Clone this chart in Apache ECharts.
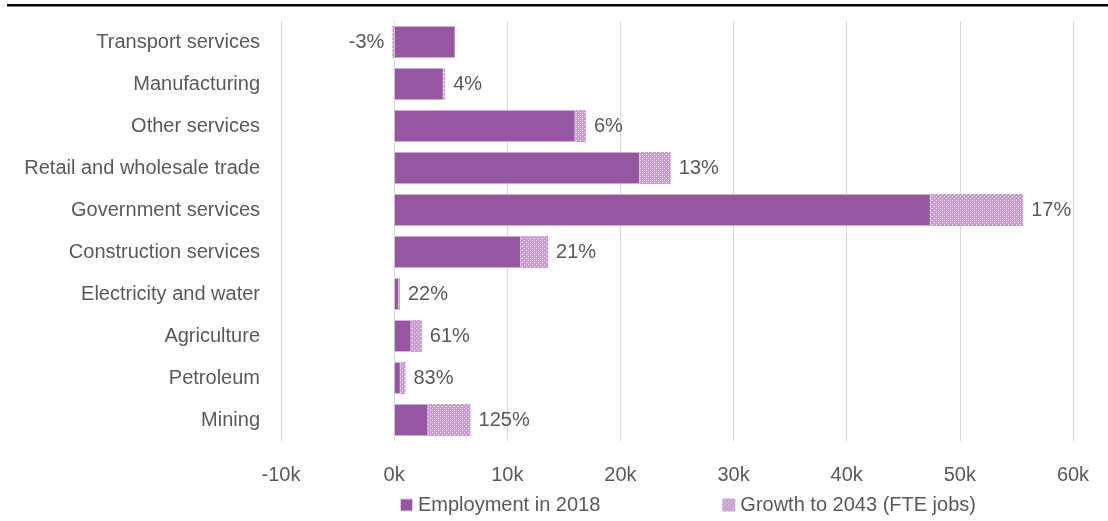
<!DOCTYPE html>
<html>
<head>
<meta charset="utf-8">
<script src="https://cdn.jsdelivr.net/npm/echarts@6/dist/echarts.min.js"></script>
<style>html,body{margin:0;padding:0;background:#fff;}#chart{width:1108px;height:521px;}</style>
</head>
<body>
<div id="chart"></div>
<script>
var categories = ['Transport services','Manufacturing','Other services','Retail and wholesale trade','Government services','Construction services','Electricity and water','Agriculture','Petroleum','Mining'];
var employment2018 = [5400, 4350, 16000, 21700, 47400, 11200, 420, 1500, 550, 3000];
var growth2043 = [-160, 160, 950, 2750, 8200, 2400, 90, 950, 450, 3750];
var growthPct = ['-3%','4%','6%','13%','17%','21%','22%','61%','83%','125%'];
var xTicks = [-10000, 0, 10000, 20000, 30000, 40000, 50000, 60000];

var purple = '#9656A2';
var pc = document.createElement('canvas');
pc.width = 4; pc.height = 4;
var ctx = pc.getContext('2d');
ctx.fillStyle = '#c99dd1'; ctx.fillRect(0,0,4,4);
ctx.fillStyle = '#f3e8f5'; ctx.fillRect(0,0,1,1); ctx.fillRect(2,2,1,1);
var hatch = {image: pc, repeat: 'repeat'};

var chart = echarts.init(document.getElementById('chart'));
var font = {fontFamily: 'Liberation Sans, Arial, sans-serif', fontSize: 20, color: '#595959'};
chart.setOption({
  animation: false,
  textStyle: {fontFamily: 'Liberation Sans, Arial, sans-serif'},
  graphic: [{type: 'rect', shape: {x: 7, y: 4, width: 1101, height: 2.5}, style: {fill: '#000'}}],
  grid: {left: 281, right: 35, top: 21, bottom: 80, containLabel: false},
  legend: {
    left: 399, top: 495, padding: 0, itemGap: 122, itemWidth: 13, itemHeight: 13,
    textStyle: Object.assign({}, font),
    data: [{name: 'Employment in 2018', icon: 'rect'}, {name: 'Growth to 2043 (FTE jobs)', icon: 'rect'}]
  },
  xAxis: {
    type: 'value', min: xTicks[0], max: xTicks[xTicks.length-1], interval: 10000,
    axisLine: {show: false}, axisTick: {show: false},
    splitLine: {lineStyle: {color: '#d9d9d9', width: 1}},
    axisLabel: Object.assign({margin: 24, formatter: function(v){ return (v/1000) + 'k'; }}, font)
  },
  yAxis: {
    type: 'category', data: categories, inverse: true,
    axisLine: {show: false}, axisTick: {show: false},
    axisLabel: Object.assign({margin: 21}, font)
  },
  series: [
    {
      name: 'Employment in 2018', type: 'bar', stack: 'total', data: employment2018,
      barCategoryGap: '24%',
      itemStyle: {color: purple, borderColor: 'rgba(255,255,255,0.7)', borderWidth: 0.6}
    },
    {
      name: 'Growth to 2043 (FTE jobs)', type: 'bar', stack: 'total',
      data: growth2043.map(function(v, i){
        return v < 0 ? {value: v, label: {position: 'left'}} : v;
      }),
      itemStyle: {color: hatch},
      label: Object.assign({show: true, position: 'right', distance: 8,
        formatter: function(p){ return growthPct[p.dataIndex]; }}, font)
    }
  ]
});
</script>
</body>
</html>
